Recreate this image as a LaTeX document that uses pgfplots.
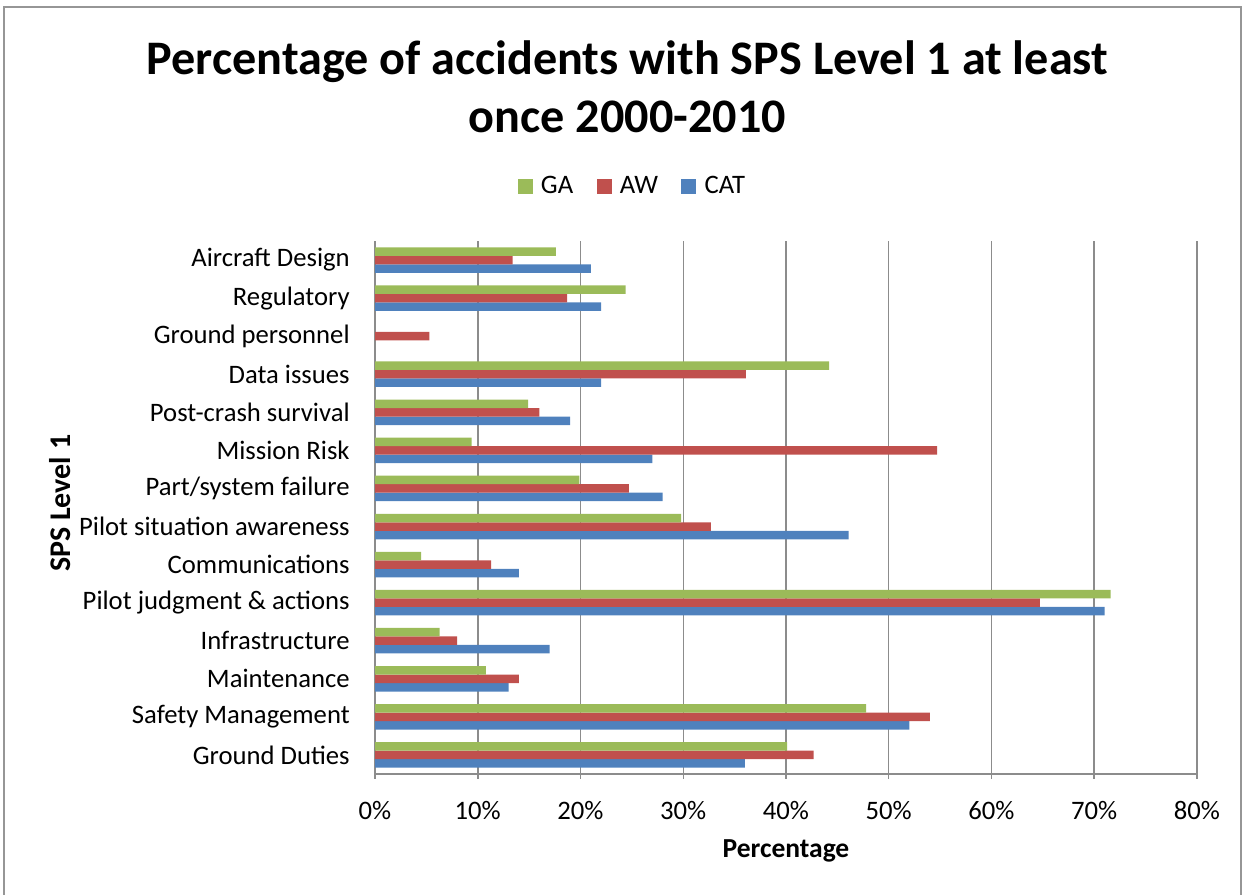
\documentclass[border=0pt]{standalone}
\usepackage{fontspec}
\setmainfont{Carlito}
\usepackage{pgfplots}
\pgfplotsset{compat=1.18}
\definecolor{gaC}{HTML}{9BBB59}
\definecolor{awC}{HTML}{C0504D}
\definecolor{catC}{HTML}{4F81BD}
\definecolor{gridC}{RGB}{140,140,140}
\definecolor{frameC}{RGB}{150,150,150}
\begin{document}
\begin{tikzpicture}[x=1pt,y=1pt]
\useasboundingbox (0pt,0pt) rectangle (748.8pt,537pt);
\draw[frameC, line width=0.8pt] (2.4pt,-2pt) -- (2.4pt,532.8pt) -- (744.6pt,532.8pt) -- (744.6pt,-2pt);
\node[anchor=base, font=\fontsize{28.9}{34}\bfseries\selectfont] at (376.5pt,492pt) {Percentage of accidents with SPS Level 1 at least};
\node[anchor=base, font=\fontsize{28.9}{34}\bfseries\selectfont] at (376.5pt,457.2pt) {once 2000-2010};
\node[rotate=90, font=\fontsize{18}{21}\bfseries\selectfont] at (36pt,235pt) {SPS Level 1};
\node[font=\fontsize{16.5}{19}\bfseries\selectfont] at (471.6pt,26.4pt) {Percentage};
\begin{axis}[
  at={(225pt,72.6pt)}, anchor=south west,
  scale only axis, width=493.2pt, height=319.8pt,
  xbar, bar width=5.1pt,
  xmin=0, xmax=80, ymin=-0.5, ymax=13.5,
  axis x line*=bottom, axis y line*=left,
  axis line style={-, gridC, line width=0.9pt},
  xtick={0,10,...,80},
  xticklabels={0\%,10\%,20\%,30\%,40\%,50\%,60\%,70\%,80\%},
  xmajorgrids, grid style={gridC, line width=0.9pt},
  tick align=outside, xtick pos=bottom, ytick pos=left,
  major tick length=3pt,
  tick style={gridC, line width=0.9pt},
  ytick={0,...,13},
  yticklabels={Ground Duties,Safety Management,Maintenance,Infrastructure,Pilot judgment \& actions,Communications,Pilot situation awareness,Part/system failure,Mission Risk,Post-crash survival,Data issues,Ground personnel,Regulatory,Aircraft Design},
  ytick style={draw=none},
  minor ytick={-0.5,0.5,...,13.5},
  minor tick length=4.2pt,
  minor tick style={gridC, line width=0.9pt},
  tick label style={font=\fontsize{16}{19}\selectfont},
  yticklabel style={inner sep=0pt, xshift=-12pt},
  xticklabel style={inner sep=0pt, yshift=-13pt},
  legend style={at={(0.314,1.103)}, anchor=center, draw=none, fill=none, legend columns=3,
    font=\fontsize{16}{19}\selectfont,
    /tikz/every odd column/.append style={column sep=3pt},
    /tikz/every even column/.append style={column sep=12pt}},
  legend image code/.code={\fill[#1] (0pt,-4.5pt) rectangle (9pt,4.5pt);},
  reverse legend,
]
\addplot[fill=catC, draw=none, bar shift=-5.1pt] coordinates {
(36.0,0) (52.0,1) (13.0,2) (17.0,3) (71.0,4) (14.0,5) (46.1,6) (28.0,7) (27.0,8) (19.0,9) (22.0,10) (22.0,12) (21.0,13)};
\addlegendentry{CAT}
\addplot[fill=awC, draw=none, bar shift=0pt] coordinates {
(42.7,0) (54.0,1) (14.0,2) (8.0,3) (64.7,4) (11.3,5) (32.7,6) (24.7,7) (54.7,8) (16.0,9) (36.1,10) (5.3,11) (18.7,12) (13.4,13)};
\addlegendentry{AW}
\addplot[fill=gaC, draw=none, bar shift=5.1pt] coordinates {
(40.1,0) (47.8,1) (10.8,2) (6.3,3) (71.6,4) (4.5,5) (29.8,6) (19.9,7) (9.4,8) (14.9,9) (44.2,10) (24.4,12) (17.6,13)};
\addlegendentry{GA}
\end{axis}
\end{tikzpicture}
\end{document}
